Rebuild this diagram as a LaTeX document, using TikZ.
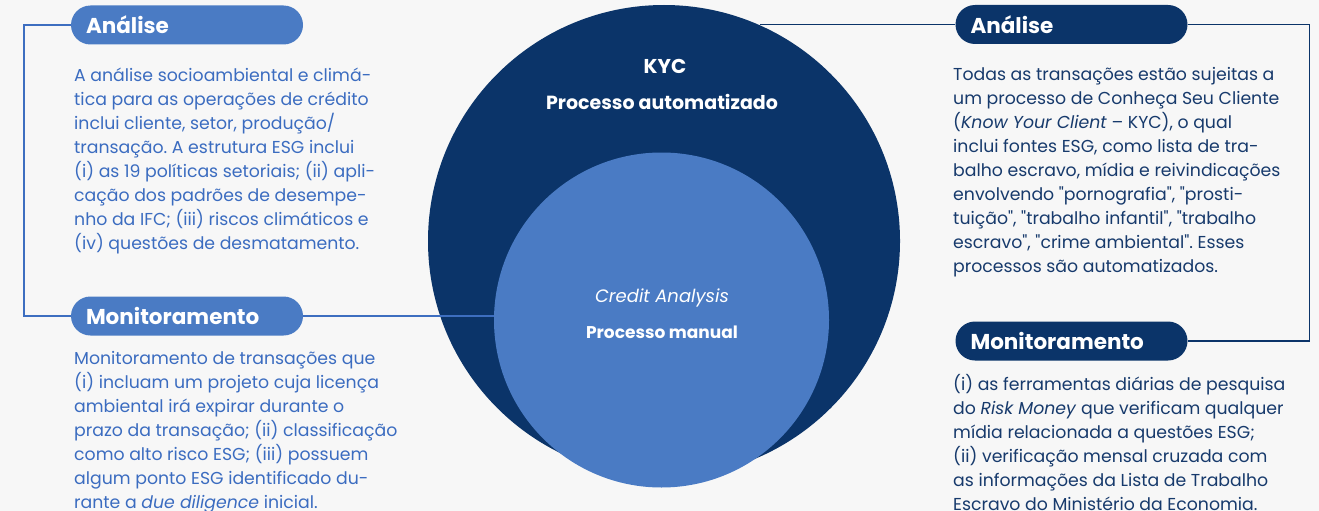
\documentclass[tikz,border=0pt]{standalone}
\usepackage{fontspec}
\setmainfont{Poppins}[Ligatures=TeXOff]
\definecolor{bg}{HTML}{F7F7F7}
\definecolor{navy}{HTML}{0B3469}
\definecolor{mid}{HTML}{4A7BC4}
\definecolor{ltext}{HTML}{3B6CC0}
\definecolor{rtext}{HTML}{173A6C}
\definecolor{lline}{HTML}{3D6EC0}
\begin{document}
\frenchspacing
\begin{tikzpicture}[x=1pt,y=-1pt,
 pill/.style={rounded corners=19.5pt, minimum height=39pt, minimum width=232pt, text width=202pt, inner xsep=15pt, inner ysep=0pt, align=left, font=\fontsize{21.5}{24}\selectfont\bfseries, text=white},
 body/.style={anchor=north west, inner sep=0pt, align=left, font=\fontsize{17.3}{24}\selectfont},
 conn/.style={line width=1.5pt},
 circ/.style={circle, inner sep=0pt}
]
\useasboundingbox (0,0) rectangle (1319,511);
\fill[bg] (0,0) rectangle (1319,511);

% circles
\node[circ, fill=navy, minimum size=472pt] (outer) at (664,241) {};

% pills
\node[pill, fill=mid] (la) at (187,25) {Análise};
\node[pill, fill=mid] (lm) at (187,316) {Monitoramento};
\node[pill, fill=navy] (ra) at (1071.5,24.5) {Análise};
\node[pill, fill=navy] (rm) at (1071.5,341) {Monitoramento};

\node[circ, minimum size=335pt] (innerref) at (661.5,320) {};

% connectors
\draw[conn, lline] (la.west) -- ++(-47,0) |- (lm.west);
\draw[conn, lline] (lm.east) -- (lm.east -| innerref.west);
\draw[conn, navy] (ra.west) -- (ra.west -| outer.66);
\draw[conn, navy] (ra.east) -- ++(122,0) |- (rm.east);

\node[circ, fill=mid, minimum size=335pt] (inner) at (661.5,320) {};

% center labels
\node[text=white, font=\fontsize{20}{22}\selectfont\bfseries] (kyc) at (665,66) {KYC};
\node[text=white, font=\fontsize{19}{22}\selectfont\bfseries] (auto) at (662,102) {Processo automatizado};
\node[text=white, font=\fontsize{18}{22}\selectfont\itshape] (ca) at (662,298) {Credit Analysis};
\node[text=white, font=\fontsize{17}{22}\selectfont\bfseries] (man) at (662,332) {Processo manual};

% bodies
\node[body, text=ltext] (lab) at (74,64) {\strut A análise socioambiental e climá-\\
tica para as operações de crédito\\
inclui cliente, setor, produção/\\
transação. A estrutura ESG inclui\\
(i) as 19 políticas setoriais; (ii) apli-\\
cação dos padrões de desempe-\\
nho da IFC; (iii) riscos climáticos e\\
(iv) questões de desmatamento.};

\node[body, text=ltext] (lmb) at (74,347) {\strut Monitoramento de transações que\\
(i) incluam um projeto cuja licença\\
ambiental irá expirar durante o\\
prazo da transação; (ii) classificação\\
como alto risco ESG; (iii) possuem\\
algum ponto ESG identificado du-\\
rante a \textit{due diligence} inicial.};

\node[body, text=rtext] (rab) at (953,63) {\strut Todas as transações estão sujeitas a\\
um processo de Conheça Seu Cliente\\
(\textit{Know Your Client} – KYC), o qual\\
inclui fontes ESG, como lista de tra-\\
balho escravo, mídia e reivindicações\\
envolvendo "pornografia", "prosti-\\
tuição", "trabalho infantil", "trabalho\\
escravo", "crime ambiental". Esses\\
processos são automatizados.};

\node[body, text=rtext] (rmb) at (953,373) {\strut (i) as ferramentas diárias de pesquisa\\
do \textit{Risk Money} que verificam qualquer\\
mídia relacionada a questões ESG;\\
(ii) verificação mensal cruzada com\\
as informações da Lista de Trabalho\\
Escravo do Ministério da Economia.};
\end{tikzpicture}
\end{document}
